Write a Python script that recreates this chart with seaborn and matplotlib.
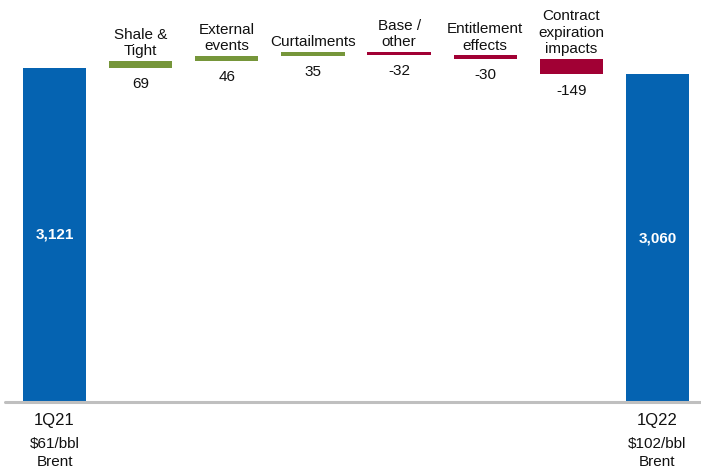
import matplotlib
matplotlib.use("Agg")
import matplotlib.pyplot as plt
import seaborn as sns
import numpy as np
import pandas as pd

# ---- data ----
categories = ["1Q21", "Shale &\nTight", "External\nevents", "Curtailments",
              "Base /\nother", "Entitlement\neffects", "Contract\nexpiration\nimpacts", "1Q22"]
kinds = ["total", "delta", "delta", "delta", "delta", "delta", "delta", "total"]
start_total = 3121
deltas = [69, 46, 35, -32, -30, -149]
end_total = 3060
sub_price = ["$61/bbl", "$102/bbl"]
sub_name = ["Brent", "Brent"]

# ---- waterfall geometry from data ----
values = [start_total] + deltas + [end_total]
bottoms, heights = [], []
running = start_total
bottoms.append(0); heights.append(start_total)
for d in deltas:
    lo = running if d >= 0 else running + d
    bottoms.append(lo); heights.append(abs(d))
    running += d
bottoms.append(0); heights.append(end_total)

BLUE = "#0563B1"
GREEN = "#76963A"
RED = "#A10034"
colors = []
for k, v in zip(kinds, values):
    if k == "total":
        colors.append(BLUE)
    else:
        colors.append(GREEN if v >= 0 else RED)

df = pd.DataFrame({"cat": [f"c{i}" for i in range(len(categories))],
                   "height": heights, "bottom": bottoms})

sns.set_theme(style="white")
plt.rcParams["font.family"] = ["Liberation Sans", "DejaVu Sans"]

fig = plt.figure(figsize=(7.01, 4.74), dpi=100)
ax = fig.add_axes([5 / 701, 72 / 474, 696 / 701, 402 / 474])

sns.barplot(data=df, x="cat", y="height", bottom=df["bottom"].values,
            width=0.735, color=BLUE, ax=ax, edgecolor="none", linewidth=0)
for p, c in zip(ax.patches, colors):
    p.set_facecolor(c)

ax.set_xlim(-0.576, 7.506)
ax.set_ylim(0, 3756)
ax.axhline(0, color="#BFBFBF", lw=2.2, zorder=5, clip_on=False)
for s in ax.spines.values():
    s.set_visible(False)
ax.set_xticks([]); ax.set_yticks([])
ax.set_xlabel(""); ax.set_ylabel("")

for i, (k, v, b, h) in enumerate(zip(kinds, values, bottoms, heights)):
    if k == "total":
        ax.text(i, h / 2, f"{v:,}", ha="center", va="center", color="white",
                fontsize=11, fontweight="bold")
    else:
        ax.annotate(categories[i], xy=(i, b + h), xytext=(0, 2), textcoords="offset points",
                    ha="center", va="bottom", fontsize=11, color="#111111",
                    linespacing=1.2)
        ax.annotate(f"{v}", xy=(i, b), xytext=(0, -6.5), textcoords="offset points",
                    ha="center", va="top", fontsize=11, color="#111111")

for j, i in enumerate([0, len(categories) - 1]):
    ax.annotate(categories[i], xy=(i, 0), xycoords=("data", "axes fraction"),
                xytext=(0, -8), textcoords="offset points", ha="center", va="top",
                fontsize=12, color="#111111", annotation_clip=False)
    ax.annotate(sub_price[j], xy=(i, 0), xycoords=("data", "axes fraction"),
                xytext=(0, -25), textcoords="offset points", ha="center", va="top",
                fontsize=11, color="#111111", annotation_clip=False)
    ax.annotate(sub_name[j], xy=(i, 0), xycoords=("data", "axes fraction"),
                xytext=(0, -38), textcoords="offset points", ha="center", va="top",
                fontsize=11, color="#111111", annotation_clip=False)

fig.savefig("out.png", dpi=100)
